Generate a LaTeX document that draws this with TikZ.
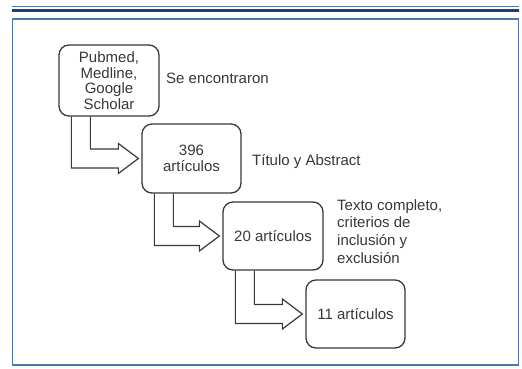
\documentclass[tikz,border=0pt]{standalone}
\usepackage{fontspec}
\setmainfont{Liberation Sans}
\usetikzlibrary{calc}
\definecolor{framec}{HTML}{4F76A8}
\definecolor{rulec}{HTML}{1F3F7A}
\definecolor{inkc}{HTML}{383838}
\newcommand\bentarr[2]{%
  \draw[arrowline] let \p1=(#1.south west), \p2=([xshift=-3pt]#2.west) in
    (\x1+13pt,\y1) -- (\x1+13pt,\y2-9.5pt) -- (\x2-20pt,\y2-9.5pt) -- (\x2-20pt,\y2-15pt)
    -- (\x2,\y2) -- (\x2-20pt,\y2+15pt) -- (\x2-20pt,\y2+9.5pt) -- (\x1+32pt,\y2+9.5pt)
    -- (\x1+32pt,\y1);}
\begin{document}
\begin{tikzpicture}[x=1pt,y=-1pt,
  stepbox/.style={draw=inkc,line width=1.3pt,rounded corners=10pt,inner sep=0pt,
    align=center,font=\fontsize{15}{15.5}\selectfont,text=inkc},
  lbl/.style={anchor=west,inner sep=0pt,align=left,font=\fontsize{15}{17.8}\selectfont,text=inkc},
  arrowline/.style={draw=inkc,line width=1.2pt,line join=miter}]
\useasboundingbox (0,0) rectangle (522,368);
\fill[white] (0,0) rectangle (522,368);
% header rules and frame
\draw[framec,line width=1pt] (12,6.7) -- (519,6.7);
\draw[rulec,line width=3pt] (12,10.5) -- (519,10.5);
\draw[framec,line width=1.2pt] (12.6,19) rectangle (518.4,365);
% boxes
\node[stepbox,minimum width=100pt,minimum height=71pt] (b1) at (109,80.5)
  {Pubmed,\\Medline,\\Google\\Scholar};
\node[stepbox,minimum width=99pt,minimum height=69pt] (b2) at (191.5,158.5)
  {396\\artículos};
\node[stepbox,minimum width=100pt,minimum height=68pt] (b3) at (273,236)
  {20 artículos};
\node[stepbox,minimum width=99pt,minimum height=68pt] (b4) at (355.5,314)
  {11 artículos};
% labels
\node[lbl] (l1) at (166,78) {Se encontraron};
\node[lbl] (l2) at (252,162) {Título y Abstract};
\node[lbl] (l3) at (337,231.5) {Texto completo,\\criterios de\\inclusión y\\exclusión};
% bent arrows
\bentarr{b1}{b2}
\bentarr{b2}{b3}
\bentarr{b3}{b4}
\end{tikzpicture}
\end{document}
